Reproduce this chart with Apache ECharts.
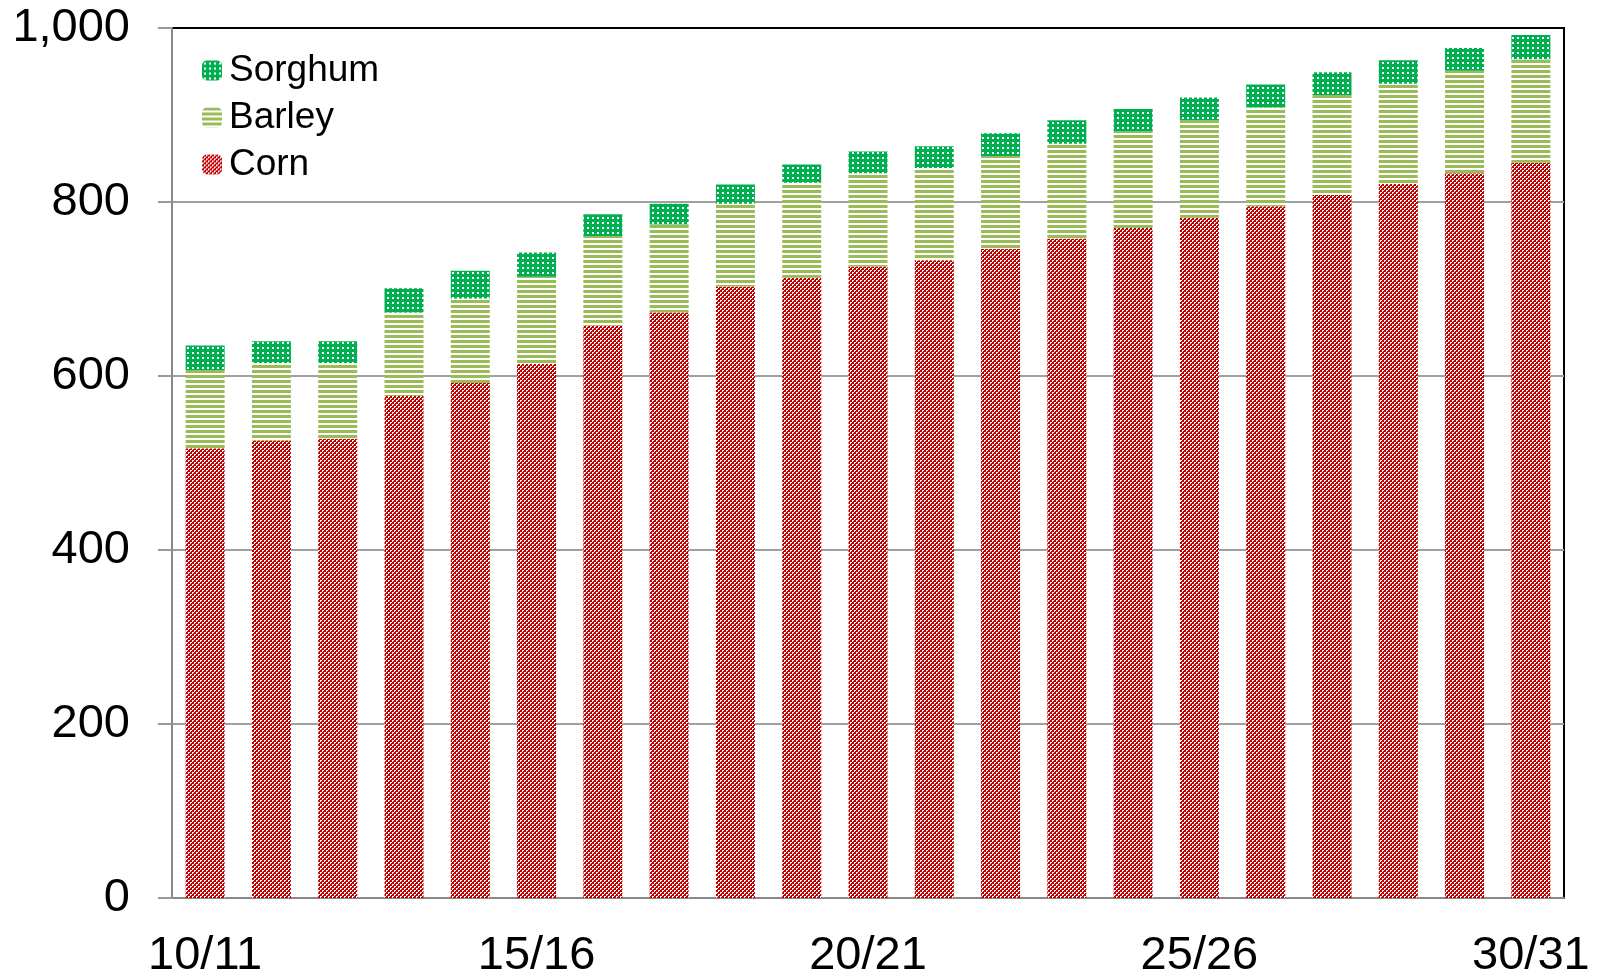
<!DOCTYPE html>
<html>
<head>
<meta charset="utf-8">
<script src="https://cdn.jsdelivr.net/npm/echarts@6/dist/echarts.min.js"></script>
<style>
  html, body { margin: 0; padding: 0; background: #fff; }
  #chart { width: 1598px; height: 977px; }
</style>
</head>
<body>
<div id="chart"></div>
<script>
const seasons = ['10/11', '11/12', '12/13', '13/14', '14/15', '15/16', '16/17', '17/18', '18/19', '19/20',
  '20/21', '21/22', '22/23', '23/24', '24/25', '25/26', '26/27', '27/28', '28/29', '29/30', '30/31']
const corn = [517, 526, 528, 577, 592, 614, 658, 673, 703, 713, 726, 733, 746, 758, 770, 782, 795, 808, 821, 833, 845]
const barley = [90, 89, 87, 96, 97, 100, 103, 101, 95, 109, 107, 106, 107, 109, 111, 112, 114, 115, 115, 118, 119]
const sorghum = [28, 25, 25, 28, 32, 28, 25, 24, 22, 21, 25, 25, 26, 27, 26, 26, 26, 26, 27, 26, 28]
const yTicks = [0, 200, 400, 600, 800, 1000]

// small tiles for the Excel-style fill patterns
const makeTile = (w, h, draw) => {
  const c = document.createElement('canvas')
  c.width = w
  c.height = h
  const ctx = c.getContext('2d')
  ctx.fillStyle = '#fff'
  ctx.fillRect(0, 0, w, h)
  draw(ctx)
  return { image: c, repeat: 'repeat' }
}

const cornFill = makeTile(4, 4, ctx => {
  ctx.fillStyle = '#C00000'
  ctx.fillRect(0, 0, 4, 4)
  ctx.fillStyle = '#fff'
  ctx.fillRect(0, 0, 2, 1)
  ctx.fillRect(0, 1, 1, 1)
  ctx.fillRect(2, 2, 2, 1)
  ctx.fillRect(2, 3, 1, 1)
})
const barleyFill = makeTile(5, 5, ctx => {
  ctx.fillStyle = '#9BBB59'
  ctx.fillRect(0, 0, 5, 3)
})
const sorghumFill = makeTile(5, 5, ctx => {
  ctx.fillStyle = '#00B050'
  ctx.fillRect(0, 0, 5, 5)
  ctx.fillStyle = '#fff'
  ctx.fillRect(2, 2, 2, 2)
})

const font = "'Liberation Sans', Arial, sans-serif"
const chart = echarts.init(document.getElementById('chart'))

const option = {
  animation: false,
  grid: {
    left: 172, right: 34, top: 28, bottom: 79,
    outerBoundsMode: 'none',
    show: true, borderColor: '#000', borderWidth: 2, backgroundColor: 'transparent'
  },
  legend: {
    orient: 'vertical',
    left: 197,
    top: 47,
    itemWidth: 20,
    itemHeight: 20,
    itemGap: 10,
    data: ['Sorghum', 'Barley', 'Corn'],
    textStyle: { fontFamily: font, fontSize: 37, color: '#000', padding: [0, 0, 0, 2] }
  },
  xAxis: {
    type: 'category',
    data: seasons,
    axisLine: { lineStyle: { color: '#888', width: 2 } },
    axisTick: { interval: 0, length: 14, lineStyle: { color: '#999', width: 2 } },
    axisLabel: {
      interval: 4, margin: 35,
      fontFamily: font, fontSize: 47, color: '#000'
    }
  },
  yAxis: {
    type: 'value',
    min: yTicks[0],
    max: yTicks[yTicks.length - 1],
    interval: 200,
    axisLine: { show: true, lineStyle: { color: '#888', width: 2 } },
    axisTick: { show: true, length: 14, lineStyle: { color: '#999', width: 2 } },
    axisLabel: {
      margin: 42, fontFamily: font, fontSize: 47, color: '#000',
      formatter: v => v.toLocaleString('en-US')
    },
    splitLine: { showMaxLine: false, lineStyle: { color: '#A0A0A0', width: 2 } }
  },
  series: [
    { name: 'Corn', type: 'bar', stack: 'total', barWidth: 39, data: corn, itemStyle: { color: cornFill } },
    { name: 'Barley', type: 'bar', stack: 'total', barWidth: 39, data: barley, itemStyle: { color: barleyFill } },
    { name: 'Sorghum', type: 'bar', stack: 'total', barWidth: 39, data: sorghum, itemStyle: { color: sorghumFill } }
  ]
}

chart.setOption(option)
</script>
</body>
</html>
